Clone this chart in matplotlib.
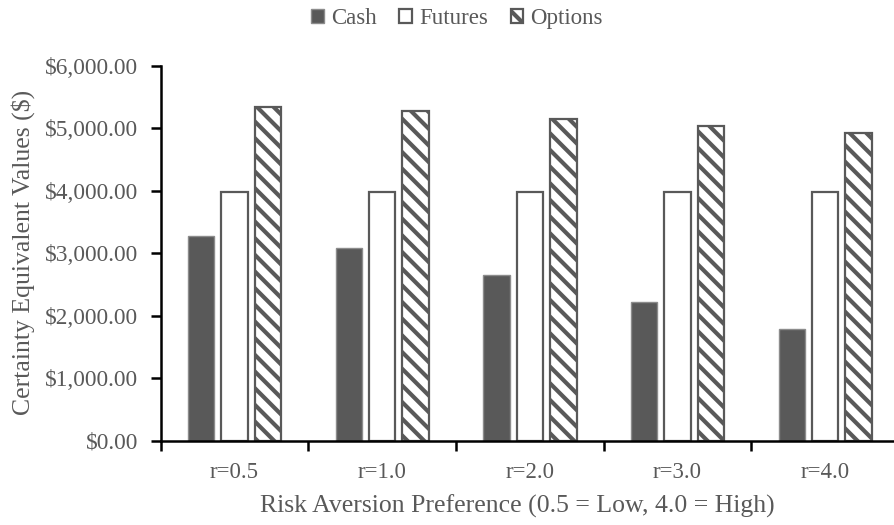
import matplotlib
matplotlib.use("Agg")
import matplotlib.pyplot as plt
from matplotlib.patches import Patch
from matplotlib.ticker import FuncFormatter, FixedLocator
import numpy as np

categories = ["r=0.5", "r=1.0", "r=2.0", "r=3.0", "r=4.0"]
cash = [3280, 3080, 2650, 2220, 1790]
futures = [3975, 3975, 3975, 3975, 3975]
options = [5335, 5275, 5145, 5035, 4920]
series_names = ["Cash", "Futures", "Options"]

plt.rcParams["font.family"] = ["Liberation Serif", "DejaVu Serif"]
plt.rcParams["hatch.linewidth"] = 3.0

TEXT = "#595959"

fig = plt.figure(figsize=(8.95, 5.25), dpi=100)
W, H = 895, 525
left, right, top, bottom = 160.7, 899.0, 65.7, 440.9
ax = fig.add_axes([left / W, 1 - bottom / H, (right - left) / W, (bottom - top) / H])

x = np.arange(len(categories))
bw = 0.18
step = 0.226

ax.bar(x - step, cash, bw, color="#595959", edgecolor="#8c8c8c", linewidth=1.0, zorder=2)
ax.bar(x, futures, bw, color="white", edgecolor="#595959", linewidth=1.6, zorder=2)
ax.bar(x + step, options, bw, color="white", edgecolor="#595959", linewidth=1.6,
       hatch="\\\\", zorder=2)

ax.set_xlim(-0.5, len(categories) - 0.5)
ax.set_ylim(0, 6000)
ax.yaxis.set_major_locator(FixedLocator(np.arange(0, 6001, 1000)))
ax.yaxis.set_major_formatter(FuncFormatter(lambda v, p: f"${v:,.2f}"))

ax.set_xticks(x)
ax.set_xticklabels(categories)
ax.xaxis.set_minor_locator(FixedLocator(np.arange(-0.5, len(categories) + 0.5, 1.0)))
ax.tick_params(axis="x", which="major", length=0, pad=15, labelsize=16.5, labelcolor=TEXT)
ax.tick_params(axis="x", which="minor", length=7, width=1.8, direction="out", color="black")
ax.tick_params(axis="y", which="major", length=7, width=1.8, direction="out",
               color="black", pad=9, labelsize=16.8, labelcolor=TEXT)

for side in ("top", "right"):
    ax.spines[side].set_visible(False)
for side in ("left", "bottom"):
    ax.spines[side].set_color("black")
    ax.spines[side].set_linewidth(1.8)

fig.text(517 / W, 1 - 506 / H, "Risk Aversion Preference (0.5 = Low, 4.0 = High)",
         ha="center", va="center", fontsize=18.5, color=TEXT)
fig.text(23 / W, 1 - 252 / H, "Certainty Equivalent Values ($)",
         ha="center", va="center", rotation=90, fontsize=18.5, color=TEXT)

handles = [
    Patch(facecolor="#595959", edgecolor="#8c8c8c", linewidth=1.0),
    Patch(facecolor="white", edgecolor="#595959", linewidth=1.6),
    Patch(facecolor="white", edgecolor="#595959", linewidth=1.6, hatch="\\\\"),
]
leg = fig.legend(handles, series_names, loc="center", bbox_to_anchor=(457 / W, 1 - 18.5 / H),
                 ncol=3, frameon=False, fontsize=16.5, handlelength=0.55, handleheight=0.55,
                 handletextpad=0.3, columnspacing=1.0, labelcolor=TEXT)

fig.savefig("out.png", dpi=100)
